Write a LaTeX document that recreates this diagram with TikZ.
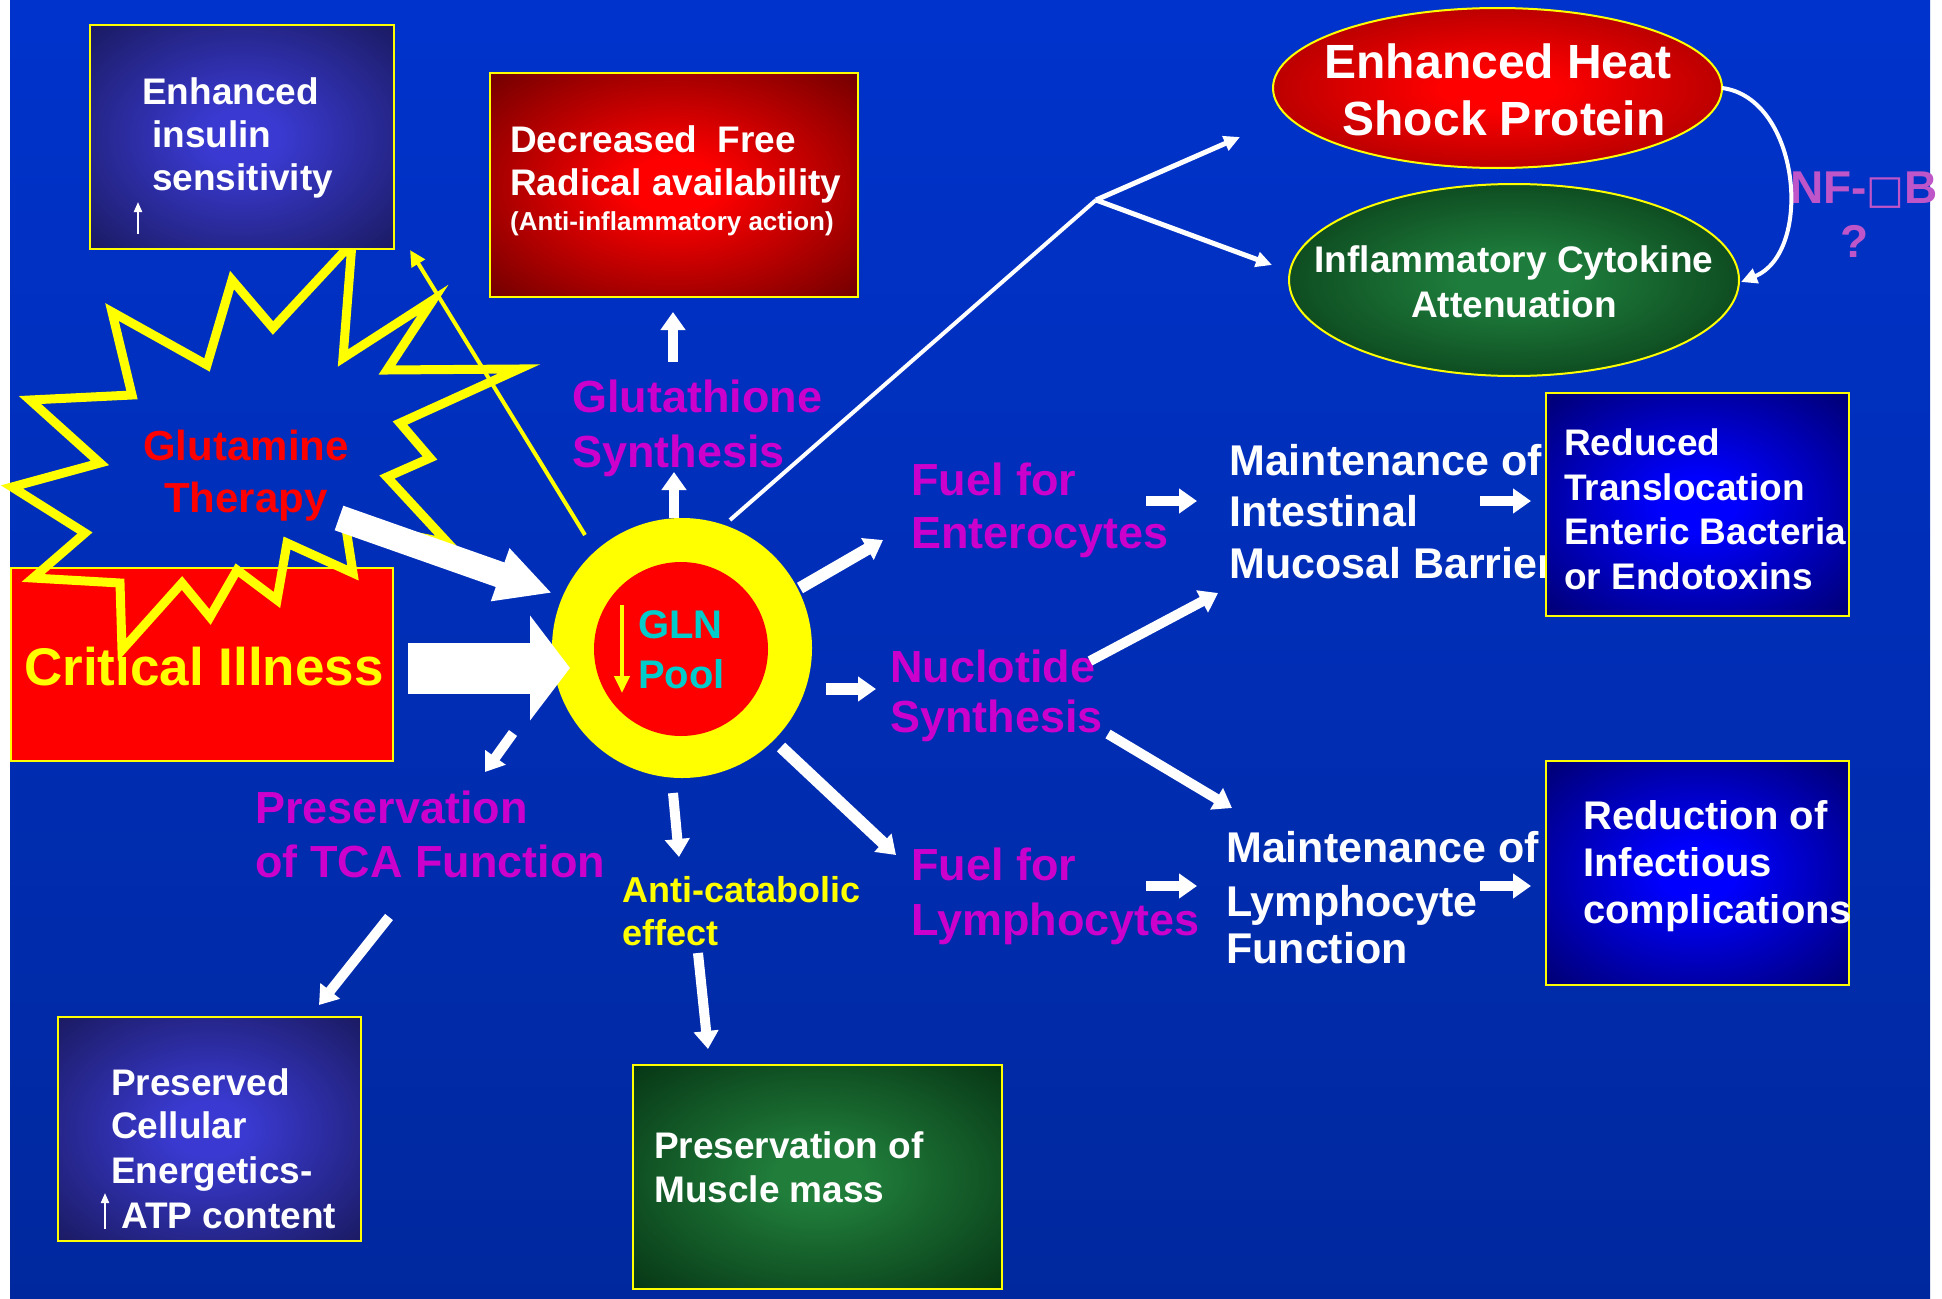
\documentclass[tikz,border=0pt]{standalone}
\usepackage{fontspec}
\setmainfont{Liberation Sans}
\newfontfamily\djv{DejaVu Sans}
\usetikzlibrary{arrows.meta,shapes.geometric}
\definecolor{bgtop}{RGB}{0,51,204}
\definecolor{bgbot}{RGB}{0,40,158}
\definecolor{mag}{RGB}{204,0,204}
\definecolor{gcyan}{RGB}{0,204,204}
\definecolor{nfpurple}{RGB}{190,85,200}
\definecolor{ylw}{RGB}{255,255,0}
\definecolor{pred}{RGB}{255,0,0}
\definecolor{insin}{RGB}{58,58,210}
\definecolor{insout}{RGB}{18,18,70}
\definecolor{decin}{RGB}{255,0,0}
\definecolor{decout}{RGB}{78,0,0}
\definecolor{bluein}{RGB}{0,0,255}
\definecolor{blueout}{RGB}{0,0,78}
\definecolor{grnin}{RGB}{32,125,58}
\definecolor{grnout}{RGB}{0,36,12}
\definecolor{hspin}{RGB}{255,0,0}
\definecolor{hspout}{RGB}{125,0,0}
\definecolor{cytin}{RGB}{30,125,60}
\definecolor{cytout}{RGB}{0,32,8}
\colorlet{ci}{black}
\colorlet{co}{black}
\pgfdeclareradialshading[ci,co]{boxrad}{\pgfpoint{0bp}{0bp}}{color(0bp)=(ci);color(6bp)=(ci);color(43bp)=(co);color(50bp)=(co)}
\newcommand\myfs[1]{\fontsize{#1}{#1}\selectfont\bfseries}
\tikzset{
  rad/.style 2 args={shade, shading=boxrad, /utils/exec={\colorlet{ci}{#1}\colorlet{co}{#2}}},
  ybox/.style={rectangle, draw=ylw, line width=2pt, inner sep=0pt},
  lbl/.style={inner sep=0pt, anchor=base west},
  clbl/.style={inner sep=0pt, anchor=base},
  warrow/.style={draw=white, line width=10pt, -{Triangle[width=24pt,length=18pt]}},
  thinarrow/.style={draw=white, line width=4pt, -{Triangle[width=15pt,length=16pt]}},
}
\begin{document}
\begin{tikzpicture}[x=1pt,y=-1pt]
\useasboundingbox (0,0) rectangle (1942,1298);
\fill[white] (0,0) rectangle (1942,1298);
\shade[top color=bgtop, bottom color=bgbot] (10,0) rectangle (1930,1298);

% ---------- coordinates for connectors ----------
\coordinate (up1a) at (673,362);  \coordinate (up1b) at (673,312);
\coordinate (up2a) at (674,518);  \coordinate (up2b) at (674,472);
\coordinate (enta) at (800,588);  \coordinate (entb) at (883,540);
\coordinate (nuca) at (826,689);  \coordinate (nucb) at (876,689);
\coordinate (lyma) at (781,747);  \coordinate (lymb) at (896,855);
\coordinate (aca)  at (673,793);  \coordinate (acb)  at (679,857);
\coordinate (tcaa) at (513,733);  \coordinate (tcab) at (485,772);
\coordinate (tc2a) at (389,917);  \coordinate (tc2b) at (319,1005);
\coordinate (ac2a) at (698,953);  \coordinate (ac2b) at (708,1049);
\coordinate (fema) at (1146,501); \coordinate (femb) at (1197,501);
\coordinate (mira) at (1480,501); \coordinate (mirb) at (1531,501);
\coordinate (numa) at (1090,661); \coordinate (numb) at (1218,593);
\coordinate (syma) at (1108,734); \coordinate (symb) at (1232,808);
\coordinate (flma) at (1146,886); \coordinate (flmb) at (1197,886);
\coordinate (mlra) at (1480,886); \coordinate (mlrb) at (1531,886);
\coordinate (lna)  at (730,520);  \coordinate (lnj)  at (1096,200);
\coordinate (lnh)  at (1240,137); \coordinate (lnc)  at (1272,265);
\coordinate (nfa)  at (1722,88);  \coordinate (nfb)  at (1741,282);
\coordinate (yla)  at (585,535);  \coordinate (ylb)  at (410,250);
\coordinate (gta)  at (339,518);  \coordinate (gtb)  at (552,593);
\coordinate (cia)  at (408,668);  \coordinate (cib)  at (570,668);
\coordinate (gla)  at (622,605);  \coordinate (glb)  at (622,693);
\coordinate (iua)  at (138,234);  \coordinate (iub)  at (138,202);
\coordinate (cua)  at (105,1229); \coordinate (cub)  at (105,1193);

% ---------- Critical illness box and starburst ----------
\node[ybox, fill=pred, minimum width=382pt, minimum height=193pt] (cibox) at (202,664.5) {};
\draw[ylw, line width=9pt, line join=miter]
  (352,243) -- (343,358) -- (433,300) -- (387,370) -- (519,369) -- (400,423)
  -- (430,458) -- (387,477) -- (448,543) -- (345,522) -- (353,573) -- (287,543)
  -- (277,600) -- (237,570) -- (210,617) -- (182,583) -- (122,650) -- (120,583)
  -- (33,578) -- (85,533) -- (12,487) -- (100,463) -- (30,400) -- (132,395)
  -- (112,312) -- (207,365) -- (232,280) -- (273,328) -- cycle;
\node[lbl, text=ylw, font=\myfs{53}] (citxt) at (24,685) {Critical Illness};
\node[clbl, text=pred, font=\myfs{42}] (gt1) at (246,460) {Glutamine};
\node[clbl, text=pred, font=\myfs{42}] (gt2) at (246,512) {Therapy};

% ---------- free labels ----------
\node[lbl, text=mag, font=\myfs{45}] (gs1) at (572,412) {Glutathione};
\node[lbl, text=mag, font=\myfs{45}] (gs2) at (572,467) {Synthesis};
\node[lbl, text=mag, font=\myfs{45}] (fe1) at (911,495) {Fuel for};
\node[lbl, text=mag, font=\myfs{45}] (fe2) at (911,548) {Enterocytes};
\node[lbl, text=mag, font=\myfs{45}] (ns1) at (890,682) {Nuclotide};
\node[lbl, text=mag, font=\myfs{45}] (ns2) at (890,732) {Synthesis};
\node[lbl, text=mag, font=\myfs{45}] (fl1) at (911,880) {Fuel for};
\node[lbl, text=mag, font=\myfs{45}] (fl2) at (911,935) {Lymphocytes};
\node[lbl, text=mag, font=\myfs{45}] (tca1) at (255,823) {Preservation};
\node[lbl, text=mag, font=\myfs{45}] (tca2) at (255,877) {of TCA Function};
\node[lbl, text=ylw, font=\myfs{36}] (acl1) at (622,902) {Anti-catabolic};
\node[lbl, text=ylw, font=\myfs{36}] (acl2) at (622,945) {effect};
\node[lbl, text=white, font=\myfs{43}] (mi1) at (1229,475) {Maintenance of};
\node[lbl, text=white, font=\myfs{43}] (mi2) at (1229,526) {Intestinal};
\node[lbl, text=white, font=\myfs{43}] (mi3) at (1229,578) {Mucosal Barrier};
\node[lbl, text=white, font=\myfs{43}] (ml1) at (1226,862) {Maintenance of};
\node[lbl, text=white, font=\myfs{43}] (ml2) at (1226,916) {Lymphocyte};
\node[lbl, text=white, font=\myfs{43}] (ml3) at (1226,963) {Function};
\node[lbl, text=nfpurple, font=\myfs{46}] (nf1) at (1790,203) {NF-{\djv\mdseries\fontsize{40}{40}\selectfont □}B};
\node[clbl, text=nfpurple, font=\myfs{46}] (nf2) at (1855,257) {?};

% ---------- boxes ----------
\node[ybox, rad={insin}{insout}, minimum width=304pt, minimum height=224pt] (insbox) at (242,137) {};
\node[ybox, rad={decin}{decout}, minimum width=368pt, minimum height=224pt] (decbox) at (674,185) {};
\node[ybox, rad={bluein}{blueout}, minimum width=303pt, minimum height=223pt] (redbox) at (1697.5,504.5) {};
\node[ybox, rad={bluein}{blueout}, minimum width=303pt, minimum height=224pt] (rdnbox) at (1697.5,873) {};
\node[ybox, rad={insin}{insout}, minimum width=303pt, minimum height=224pt] (celbox) at (209.5,1129) {};
\node[ybox, rad={grnin}{grnout}, minimum width=369pt, minimum height=224pt] (musbox) at (817.5,1177) {};
\node[ellipse, draw=ylw, line width=2pt, inner sep=0pt, rad={hspin}{hspout}, minimum width=449pt, minimum height=160pt] (hsp) at (1497.5,88) {};
\node[ellipse, draw=ylw, line width=2pt, inner sep=0pt, rad={cytin}{cytout}, minimum width=450pt, minimum height=192pt] (cyt) at (1514,280) {};

% ---------- GLN pool ----------
\node[circle, fill=ylw, minimum size=260pt, inner sep=0pt] (pool) at (682,648) {};
\node[circle, fill=pred, minimum size=174pt, inner sep=0pt] (poolin) at (681,649) {};
\node[lbl, text=gcyan, font=\myfs{40}] (gln1) at (638,638) {GLN};
\node[lbl, text=gcyan, font=\myfs{40}] (gln2) at (638,688) {Pool};
\draw[ylw, line width=4pt, -{Triangle[width=15pt,length=17pt]}] (gla) -- (glb);

% ---------- connectors ----------
\draw[white, line width=51pt, -{Triangle[width=103pt,length=40pt]}] (cia) -- (cib);
\draw[white, line width=26pt, -{Triangle[width=52pt,length=55pt]}] (gta) -- (gtb);
\draw[ylw, line width=4pt, -{Triangle[width=15pt,length=16pt]}] (yla) -- (ylb);
\draw[warrow] (up1a) -- (up1b);
\draw[warrow] (up2a) -- (up2b);
\draw[warrow, line width=12pt] (enta) -- (entb);
\draw[warrow, line width=12pt] (nuca) -- (nucb);
\draw[warrow, line width=12pt] (lyma) -- (lymb);
\draw[warrow] (aca) -- (acb);
\draw[warrow] (tcaa) -- (tcab);
\draw[warrow] (tc2a) -- (tc2b);
\draw[warrow] (ac2a) -- (ac2b);
\draw[warrow] (fema) -- (femb);
\draw[warrow] (mira) -- (mirb);
\draw[warrow] (numa) -- (numb);
\draw[warrow] (syma) -- (symb);
\draw[warrow] (flma) -- (flmb);
\draw[warrow] (mlra) -- (mlrb);
\draw[white, line width=4pt] (lna) -- (lnj);
\draw[thinarrow, line width=5pt] (lnj) -- (lnh);
\draw[thinarrow, line width=5pt] (lnj) -- (lnc);
\draw[thinarrow] (nfa) .. controls (1800,98) and (1814,252) .. (nfb);

% ---------- box texts ----------
\node[lbl, text=white, font=\myfs{37}] (ins1) at (142,104) {Enhanced};
\node[lbl, text=white, font=\myfs{37}] (ins2) at (152,147) {insulin};
\node[lbl, text=white, font=\myfs{37}] (ins3) at (152,190) {sensitivity};
\draw[white, line width=2pt, -{Triangle[width=8pt,length=10pt]}] (iua) -- (iub);
\node[lbl, text=white, font=\myfs{37}] (dec1) at (510,152) {Decreased\ \ Free};
\node[lbl, text=white, font=\myfs{37}] (dec2) at (510,195) {Radical availability};
\node[lbl, text=white, font=\myfs{26}] (dec3) at (510,230) {(Anti-inflammatory action)};
\node[clbl, text=white, font=\myfs{48}] (hsp1) at (1498,78) {Enhanced Heat};
\node[clbl, text=white, font=\myfs{48}] (hsp2) at (1504,135) {Shock Protein};
\node[clbl, text=white, font=\myfs{37}] (cyt1) at (1514,272) {Inflammatory Cytokine};
\node[clbl, text=white, font=\myfs{37}] (cyt2) at (1514,317) {Attenuation};
\node[lbl, text=white, font=\myfs{37}] (rt1) at (1564,455) {Reduced};
\node[lbl, text=white, font=\myfs{37}] (rt2) at (1564,500) {Translocation};
\node[lbl, text=white, font=\myfs{37}] (rt3) at (1564,544) {Enteric Bacteria};
\node[lbl, text=white, font=\myfs{37}] (rt4) at (1564,589) {or Endotoxins};
\node[lbl, text=white, font=\myfs{40}] (ri1) at (1583,829) {Reduction of};
\node[lbl, text=white, font=\myfs{40}] (ri2) at (1583,876) {Infectious};
\node[lbl, text=white, font=\myfs{40}] (ri3) at (1583,923) {complications};
\node[lbl, text=white, font=\myfs{37}] (ce1) at (111,1095) {Preserved};
\node[lbl, text=white, font=\myfs{37}] (ce2) at (111,1138) {Cellular};
\node[lbl, text=white, font=\myfs{37}] (ce3) at (111,1183) {Energetics-};
\node[lbl, text=white, font=\myfs{37}] (ce4) at (121,1228) {ATP content};
\draw[white, line width=2pt, -{Triangle[width=8pt,length=10pt]}] (cua) -- (cub);
\node[lbl, text=white, font=\myfs{37}] (mu1) at (654,1158) {Preservation of};
\node[lbl, text=white, font=\myfs{37}] (mu2) at (654,1202) {Muscle mass};
\end{tikzpicture}
\end{document}
